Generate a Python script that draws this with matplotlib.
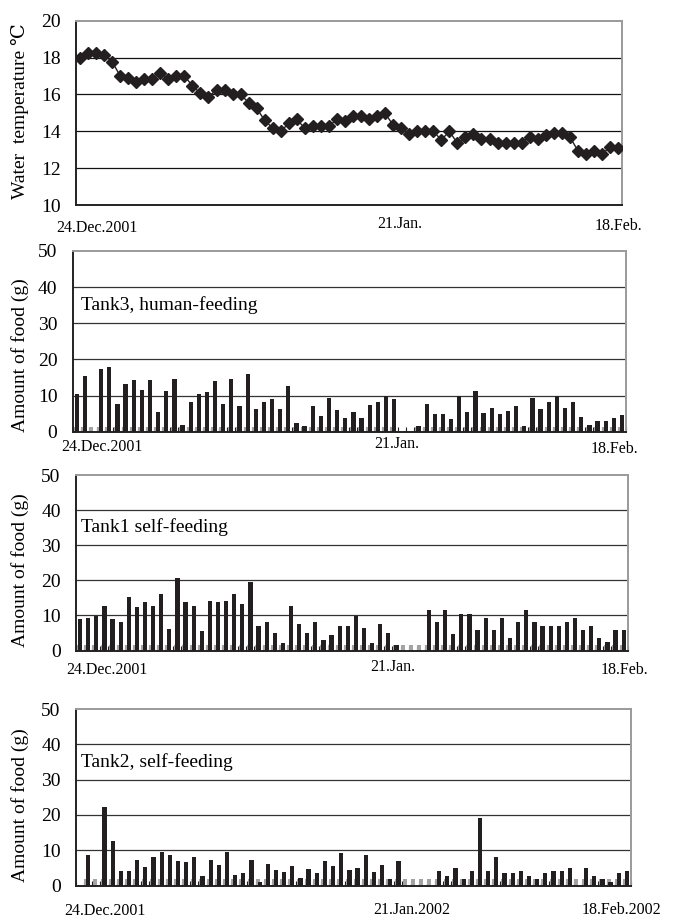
import numpy as np
import matplotlib
matplotlib.use("Agg")
import matplotlib.pyplot as plt

plt.rcParams['font.family'] = ['Liberation Serif', 'DejaVu Serif']

# ---------------- data ----------------
water_temp = [18.0, 18.26, 18.26, 18.14, 17.78, 17.0, 16.87, 16.7, 16.85, 16.85,
              17.18, 16.85, 17.0, 17.0, 16.47, 16.06, 15.88, 16.24, 16.24, 16.0,
              16.0, 15.55, 15.24, 14.6, 14.16, 14.0, 14.43, 14.65, 14.16, 14.28,
              14.28, 14.28, 14.65, 14.58, 14.83, 14.83, 14.65, 14.83, 14.97, 14.34,
              14.2, 13.83, 14.0, 14.0, 14.0, 13.53, 14.0, 13.35, 13.7, 13.83,
              13.56, 13.56, 13.35, 13.38, 13.38, 13.38, 13.7, 13.56, 13.8, 13.89,
              13.89, 13.7, 12.95, 12.77, 12.95, 12.77, 13.13, 13.07]

tank3_food = [10.5, 15.3, 0, 17.4, 17.9, 7.8, 13.1, 14.4, 11.6, 14.4,
              5.6, 11.2, 14.7, 1.8, 8.2, 10.5, 11.0, 14.1, 7.8, 14.6,
              7.2, 15.9, 6.2, 8.3, 9.0, 6.4, 12.7, 2.3, 1.7, 7.2,
              4.5, 9.4, 6.1, 3.9, 5.6, 3.9, 7.5, 8.3, 9.9, 9.0,
              0, 0, 1.7, 7.8, 5.0, 5.0, 3.4, 9.9, 5.5, 11.2,
              5.2, 6.7, 4.8, 5.7, 7.2, 1.7, 9.4, 6.2, 8.3, 9.9,
              6.7, 8.1, 4.2, 2.0, 3.0, 2.9, 3.9, 4.7]

tank1_food = [8.9, 9.4, 9.9, 12.8, 8.9, 8.0, 15.2, 12.3, 13.7, 12.8,
              16.1, 6.0, 20.6, 13.7, 12.8, 5.5, 14.2, 13.7, 14.2, 16.1,
              13.3, 19.6, 7.0, 8.0, 5.0, 2.1, 12.8, 7.5, 5.0, 8.0,
              3.1, 4.5, 7.0, 7.0, 9.9, 6.5, 2.0, 7.5, 5.0, 1.5,
              0, 0, 0, 11.5, 8.1, 11.5, 4.6, 10.3, 10.3, 5.8,
              9.2, 5.8, 9.2, 3.5, 8.1, 11.5, 8.1, 6.9, 6.9, 6.9,
              8.1, 9.2, 5.8, 6.9, 3.5, 2.4, 5.8, 5.8]

tank2_food = [0, 8.7, 0, 22.2, 12.5, 4.0, 4.1, 7.3, 5.2, 8.2,
              9.4, 8.7, 6.8, 6.6, 8.0, 2.8, 7.2, 5.8, 9.4, 3.0,
              3.5, 7.3, 1.1, 6.0, 4.4, 3.8, 5.5, 2.2, 4.6, 3.5,
              6.8, 5.6, 9.2, 4.3, 5.0, 8.7, 3.8, 5.8, 1.8, 6.9,
              0, 0, 0, 0, 4.2, 2.6, 5.0, 1.8, 4.2, 19.2,
              4.2, 8.1, 3.5, 3.5, 4.2, 2.6, 1.8, 3.5, 4.2, 4.2,
              5.0, 0, 5.0, 2.6, 1.8, 1.1, 3.5, 4.2]

# small grey series (second series of each feeding chart)
tank3_grey = [1.4] * 40 + [0, 0] + [1.4] * 26
tank1_grey = [1.6] * 68
tank2_grey = [0] + [1.7] * 67

temp_ticks = [10, 12, 14, 16, 18, 20]
food_ticks = [0, 10, 20, 30, 40, 50]

panel_names = ["Tank3, human-feeding", "Tank1 self-feeding", "Tank2, self-feeding"]
date_labels_short = ["24.Dec.2001", "21.Jan.", "18.Feb."]
date_labels_long = ["24.Dec.2001", "21.Jan.2002", "18.Feb.2002"]

# ---------------- figure ----------------
W, H = 676, 921
fig = plt.figure(figsize=(W / 100, H / 100), dpi=100)
fig.patch.set_facecolor('white')


def px_axes(x0, x1, ytop, ybot):
    return fig.add_axes([x0 / W, 1 - ybot / H, (x1 - x0) / W, (ybot - ytop) / H])


def style_axes(ax):
    for s in ('top', 'right'):
        ax.spines[s].set_color('#9a9a9a')
        ax.spines[s].set_linewidth(1.4)
    for s in ('left', 'bottom'):
        ax.spines[s].set_color('#222222')
        ax.spines[s].set_linewidth(1.4)
    ax.set_axisbelow(True)


TICK_FS = 14
LAB_FS = 14
DATE_FS = 11.5
BLACK = '#231f20'
YLAB_X = 20

# ---- top panel: water temperature ----
ax0 = px_axes(76, 622, 20.7, 205)
style_axes(ax0)
n = len(water_temp)
x = np.arange(n)
ax0.plot(x, water_temp, color=BLACK, lw=1.0, marker='D', ms=6.0,
         markerfacecolor=BLACK, markeredgecolor=BLACK, zorder=3)
ax0.set_xlim(-0.5, n - 0.5)
ax0.set_ylim(10, 20)
ax0.set_yticks(temp_ticks)
ax0.set_yticklabels([str(t) for t in temp_ticks], fontsize=TICK_FS)
ax0.tick_params(axis='y', length=0, pad=11)
ax0.set_xticks([])
for t in temp_ticks[1:-1]:
    ax0.axhline(t, color='#111111', lw=0.9, zorder=1)
fig.text(YLAB_X / W, 1 - 111 / H, "Water  temperature \u2103", fontsize=LAB_FS,
         rotation=90, ha='center', va='center')

for lab, (px, py) in zip(date_labels_short, [(97, 228), (400, 224), (618, 226)]):
    fig.text(px / W, 1 - py / H, lab, fontsize=DATE_FS, ha='center', va='center')

# ---- bar panels ----
panels = [
    (tank3_food, tank3_grey, (72.7, 626, 250.8, 431.8),
     [(102, 447), (397, 444), (614, 449)], date_labels_short, 310, 355),
    (tank1_food, tank1_grey, (76, 627.7, 475, 650.5),
     [(107, 670), (393, 667), (624, 670)], date_labels_short, 532, 570),
    (tank2_food, tank2_grey, (76, 631, 709, 885.5),
     [(105, 911), (412, 910), (621, 910)], date_labels_long, 767, 805),
]

for (food, grey, (x0, x1, yt, yb), datepos, dlabels, name_y, ylab_y), name in zip(panels, panel_names):
    ax = px_axes(x0, x1, yt, yb)
    style_axes(ax)
    xx = np.arange(len(food))
    ax.bar(xx - 0.22, grey, width=0.5, color='#a3a3a3', zorder=2, linewidth=0)
    ax.bar(xx, food, width=0.52, color=BLACK, zorder=3, linewidth=0)
    ax.set_xlim(-0.5, len(food) - 0.5)
    ax.set_ylim(0, 50)
    ax.set_yticks(food_ticks)
    ax.set_yticklabels([str(t) for t in food_ticks], fontsize=TICK_FS)
    ax.tick_params(axis='y', length=0, pad=11)
    ax.set_xticks(np.arange(-0.5, len(food), 1))
    ax.set_xticklabels([])
    ax.tick_params(axis='x', direction='in', length=3.5, width=0.8, color=BLACK)
    for t in food_ticks[1:-1]:
        ax.axhline(t, color='#333333', lw=0.9, zorder=1)
    fig.text(YLAB_X / W, 1 - ylab_y / H, "Amount of food (g)", fontsize=LAB_FS,
             rotation=90, ha='center', va='center')
    fig.text(81 / W, 1 - name_y / H, name, fontsize=LAB_FS, ha='left', va='baseline')
    for lab, (px, py) in zip(dlabels, datepos):
        fig.text(px / W, 1 - py / H, lab, fontsize=DATE_FS, ha='center', va='center')

fig.savefig("out.png", dpi=100, facecolor='white')
